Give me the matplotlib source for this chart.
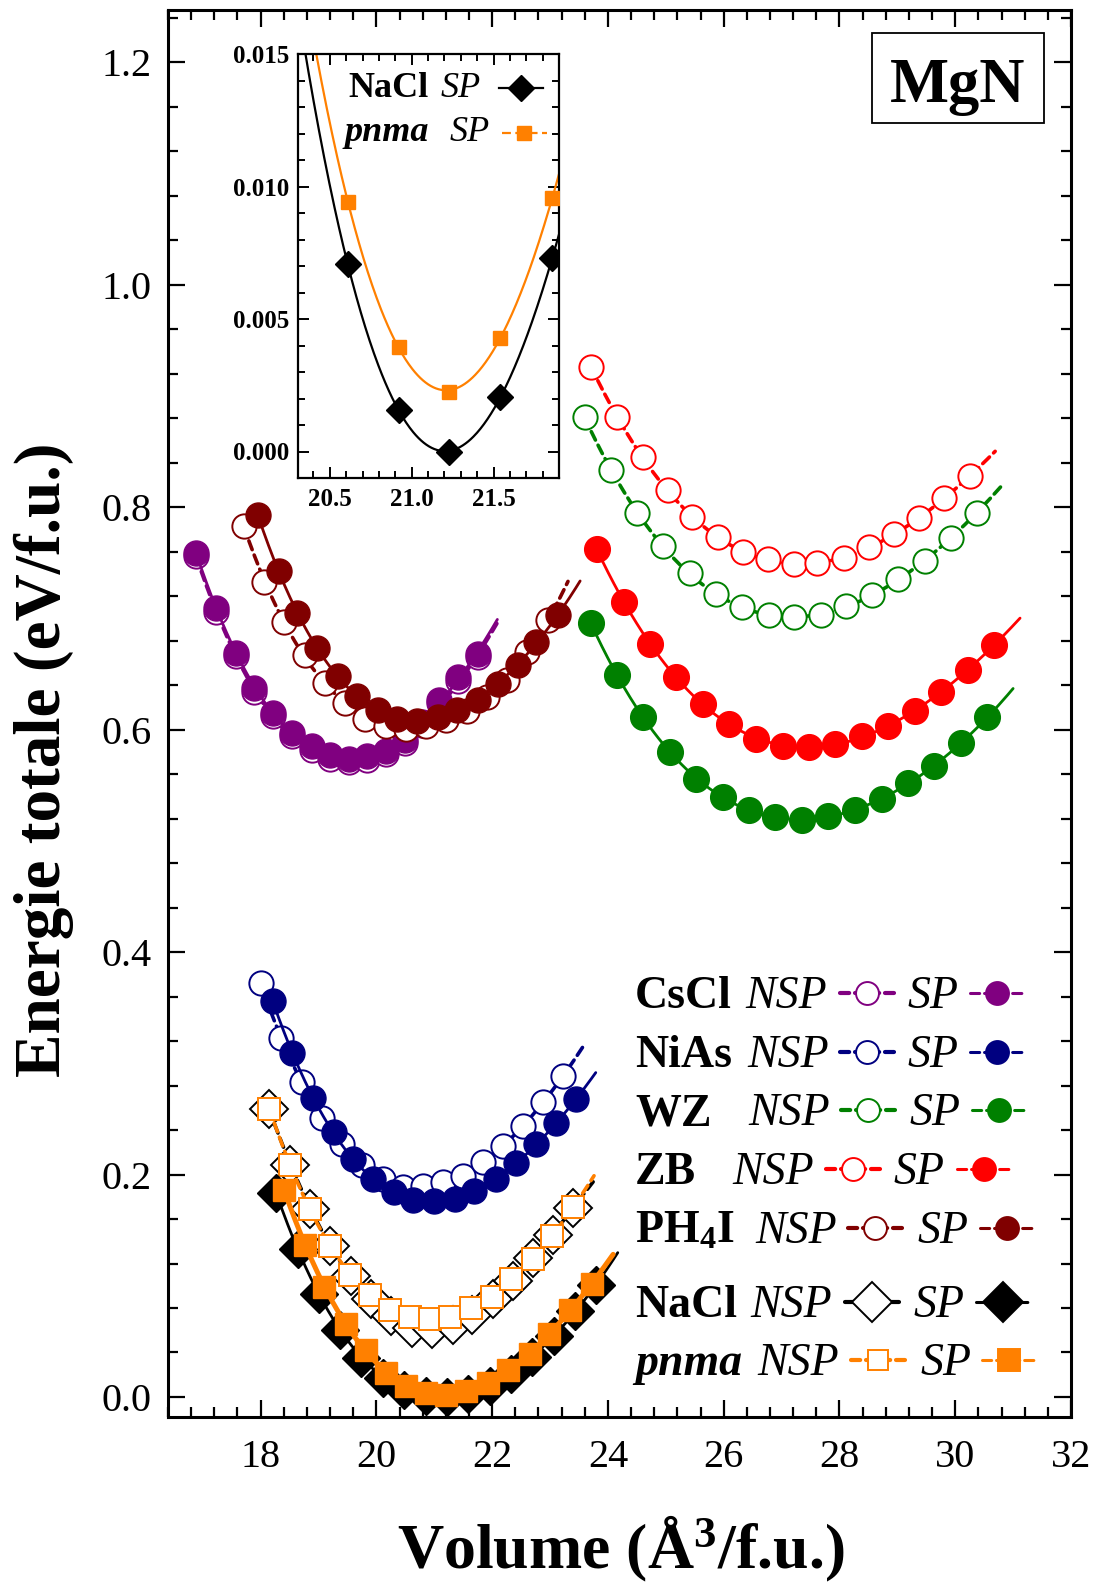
import numpy as np
import matplotlib
matplotlib.use('Agg')
import matplotlib.pyplot as plt
from matplotlib.lines import Line2D
from matplotlib.patches import Rectangle
from matplotlib.ticker import MultipleLocator, FormatStrFormatter

plt.rcParams['font.family'] = ['Liberation Serif', 'DejaVu Serif']
plt.rcParams['mathtext.fontset'] = 'custom'
plt.rcParams['mathtext.rm'] = 'Liberation Serif'
plt.rcParams['mathtext.bf'] = 'Liberation Serif:bold'
plt.rcParams['mathtext.it'] = 'Liberation Serif:italic'

# ---------------- data ----------------
cscl_v = [16.89, 17.23, 17.57, 17.89, 18.21, 18.55, 18.88, 19.20, 19.52, 19.84, 20.17, 20.49, 20.78, 21.08, 21.41, 21.75]
cscl_sp = [0.759, 0.709, 0.669, 0.637, 0.615, 0.597, 0.585, 0.577, 0.574, 0.576, 0.581, 0.591, 0.607, 0.627, 0.647, 0.668]
cscl_nsp = [0.756, 0.706, 0.666, 0.634, 0.612, 0.594, 0.582, 0.574, 0.571, 0.573, 0.578, 0.588, 0.604, 0.624, 0.644, 0.665]

ph4i_sp_v = [17.95, 18.31, 18.63, 18.98, 19.33, 19.67, 20.02, 20.36, 20.71, 21.06, 21.40, 21.75, 22.10, 22.44, 22.76, 23.14]
ph4i_sp = [0.793, 0.743, 0.705, 0.673, 0.648, 0.630, 0.618, 0.610, 0.608, 0.611, 0.618, 0.627, 0.641, 0.658, 0.679, 0.703]
ph4i_nsp_v = [17.71, 18.06, 18.41, 18.76, 19.11, 19.46, 19.81, 20.16, 20.51, 20.86, 21.21, 21.56, 21.91, 22.26, 22.61, 22.96]
ph4i_nsp = [0.783, 0.733, 0.697, 0.667, 0.642, 0.624, 0.610, 0.603, 0.601, 0.603, 0.609, 0.617, 0.629, 0.645, 0.670, 0.699]

zb_nsp_v = [23.71, 24.16, 24.60, 25.03, 25.46, 25.90, 26.33, 26.77, 27.21, 27.62, 28.07, 28.51, 28.94, 29.37, 29.81, 30.25]
zb_nsp = [0.926, 0.881, 0.845, 0.815, 0.791, 0.773, 0.760, 0.753, 0.749, 0.750, 0.754, 0.764, 0.776, 0.790, 0.808, 0.828]
zb_sp_v = [23.81, 24.27, 24.73, 25.18, 25.64, 26.10, 26.56, 27.02, 27.47, 27.93, 28.39, 28.84, 29.30, 29.76, 30.22, 30.67]
zb_sp = [0.762, 0.715, 0.677, 0.647, 0.623, 0.605, 0.592, 0.585, 0.584, 0.587, 0.594, 0.603, 0.617, 0.634, 0.654, 0.676]

wz_nsp_v = [23.60, 24.05, 24.50, 24.96, 25.41, 25.87, 26.31, 26.78, 27.22, 27.68, 28.11, 28.56, 29.01, 29.47, 29.92, 30.37]
wz_nsp = [0.881, 0.833, 0.795, 0.765, 0.741, 0.722, 0.710, 0.703, 0.701, 0.703, 0.711, 0.721, 0.735, 0.752, 0.772, 0.795]
wz_sp_v = [23.70, 24.16, 24.61, 25.07, 25.53, 25.98, 26.44, 26.89, 27.35, 27.81, 28.27, 28.73, 29.18, 29.64, 30.10, 30.55]
wz_sp = [0.696, 0.649, 0.611, 0.580, 0.556, 0.539, 0.528, 0.521, 0.519, 0.522, 0.528, 0.538, 0.552, 0.567, 0.588, 0.611]

nias_nsp_v = [18.00, 18.35, 18.71, 19.06, 19.41, 19.76, 20.11, 20.46, 20.80, 21.15, 21.50, 21.84, 22.19, 22.54, 22.88, 23.23]
nias_nsp = [0.372, 0.323, 0.283, 0.251, 0.227, 0.209, 0.196, 0.189, 0.190, 0.193, 0.199, 0.211, 0.226, 0.244, 0.265, 0.289]
nias_sp_v = [18.21, 18.55, 18.90, 19.26, 19.60, 19.95, 20.30, 20.64, 21.00, 21.35, 21.69, 22.06, 22.41, 22.75, 23.11, 23.45]
nias_sp = [0.356, 0.309, 0.269, 0.238, 0.214, 0.196, 0.184, 0.177, 0.176, 0.178, 0.185, 0.196, 0.210, 0.227, 0.246, 0.268]

nacl_nsp_v = [18.15, 18.51, 18.85, 19.20, 19.57, 19.91, 20.26, 20.61, 20.96, 21.32, 21.66, 22.01, 22.36, 22.70, 23.05, 23.40]
nacl_nsp = [0.259, 0.209, 0.169, 0.136, 0.109, 0.088, 0.073, 0.062, 0.061, 0.065, 0.074, 0.088, 0.104, 0.125, 0.146, 0.170]
pnma_nsp_v = [18.15, 18.51, 18.85, 19.20, 19.55, 19.89, 20.24, 20.58, 20.93, 21.28, 21.64, 21.99, 22.33, 22.70, 23.04, 23.40]
pnma_nsp = [0.259, 0.209, 0.169, 0.136, 0.110, 0.092, 0.078, 0.072, 0.070, 0.072, 0.080, 0.090, 0.106, 0.124, 0.145, 0.171]

nacl_sp_v = [18.27, 18.64, 19.01, 19.38, 19.74, 20.11, 20.48, 20.85, 21.22, 21.59, 21.96, 22.33, 22.69, 23.06, 23.43, 23.80]
nacl_sp = [0.183, 0.133, 0.093, 0.060, 0.035, 0.017, 0.006, 0.0012, 0.0, 0.0025, 0.0095, 0.021, 0.036, 0.055, 0.077, 0.101]
pnma_sp_v = [18.41, 18.76, 19.10, 19.48, 19.82, 20.17, 20.52, 20.86, 21.20, 21.55, 21.93, 22.27, 22.65, 22.99, 23.35, 23.72]
pnma_sp = [0.186, 0.137, 0.099, 0.066, 0.042, 0.022, 0.010, 0.0034, 0.0022, 0.005, 0.013, 0.024, 0.039, 0.057, 0.078, 0.102]

# inset data
ins_v = [20.61, 20.92, 21.23, 21.54, 21.86]
ins_nacl_sp = [0.00706, 0.00158, 0.0, 0.00204, 0.00732]
ins_pnma_sp = [0.00943, 0.00396, 0.00226, 0.00430, 0.00958]

legend_names = ['CsCl', 'NiAs', 'WZ', 'ZB', r'PH$_{\mathbf{4}}$I', 'NaCl', 'pnma']
x_ticks = [18, 20, 22, 24, 26, 28, 30, 32]
y_ticks = [0.0, 0.2, 0.4, 0.6, 0.8, 1.0, 1.2]

PURPLE = '#800080'
NAVY = '#000080'
GREEN = '#008000'
RED = '#FF0000'
DARKRED = '#800000'
BLACK = '#000000'
ORANGE = '#FF8000'

W, H = 1098, 1588
fig = plt.figure(figsize=(W / 100, H / 100), dpi=100)


def fx(px):
    return px / W


def fy(py):
    return 1 - py / H


ax = fig.add_axes([168 / W, 1 - 1417 / H, 903 / W, 1407 / H])
ax.set_xlim(16.4, 32.0)
ax.set_ylim(-0.018, 1.247)


def curve(v, e, deg=4, ext=True):
    v = np.asarray(v, float)
    e = np.asarray(e, float)
    c = np.polyfit(v, e, deg)
    x1 = v[-1] + (v[-1] - v[-2]) if ext else v[-1]
    xx = np.linspace(v[0], x1, 300)
    return xx, np.polyval(c, xx)


def series(v, e, color, marker, ms, filled, z, lw=None):
    xx, yy = curve(v, e)
    if filled:
        ax.plot(xx, yy, '-', color=color, lw=lw or 2.0, zorder=z, solid_capstyle='round')
        ax.plot(v, e, ls='none', marker=marker, ms=ms, mfc=color, mec=color, mew=1.0, zorder=z + 0.5)
    else:
        ax.plot(xx, yy, color=color, lw=lw or 2.6, ls=(0, (2.6, 1.6)), zorder=z, dash_capstyle='round')
        ax.plot(v, e, ls='none', marker=marker, ms=ms, mfc='white', mec=color, mew=1.4, zorder=z + 0.5)


series(cscl_v, cscl_nsp, PURPLE, 'o', 17.5, False, 2)
series(cscl_v, cscl_sp, PURPLE, 'o', 18, True, 3)
series(ph4i_nsp_v, ph4i_nsp, DARKRED, 'o', 17.5, False, 4)
series(ph4i_sp_v, ph4i_sp, DARKRED, 'o', 18, True, 5)
series(zb_nsp_v, zb_nsp, RED, 'o', 17.5, False, 2)
series(wz_nsp_v, wz_nsp, GREEN, 'o', 17.5, False, 2)
series(zb_sp_v, zb_sp, RED, 'o', 18.5, True, 3)
series(wz_sp_v, wz_sp, GREEN, 'o', 18.5, True, 3)
series(nias_nsp_v, nias_nsp, NAVY, 'o', 17.5, False, 2)
series(nias_sp_v, nias_sp, NAVY, 'o', 18, True, 3)
series(nacl_nsp_v, nacl_nsp, BLACK, 'D', 19.5, False, 4)
series(pnma_nsp_v, pnma_nsp, ORANGE, 's', 15.5, False, 5)
series(nacl_sp_v, nacl_sp, BLACK, 'D', 19.5, True, 6)
series(pnma_sp_v, pnma_sp, ORANGE, 's', 16.5, True, 7, lw=3.6)

ax.set_xticks(x_ticks)
ax.set_yticks(y_ticks)
ax.xaxis.set_minor_locator(MultipleLocator(0.4))
ax.yaxis.set_minor_locator(MultipleLocator(0.04))
ax.yaxis.set_major_formatter(FormatStrFormatter('%.1f'))
ax.xaxis.set_major_formatter(FormatStrFormatter('%d'))
ax.tick_params(which='both', direction='in', top=True, right=True, width=1.6)
ax.tick_params(which='major', length=12, labelsize=29)
ax.tick_params(which='minor', length=7)
ax.tick_params(axis='x', which='major', pad=16)
ax.tick_params(axis='y', which='major', pad=12)
for s in ax.spines.values():
    s.set_linewidth(2.2)

# axis labels
fig.text(fx(60), fy(760), 'Energie totale (eV/f.u.)', rotation=90, rotation_mode='anchor',
         ha='center', va='baseline', fontsize=47, fontweight='bold')
fig.text(fx(621), fy(1568), r'Volume (Å$^{\mathbf{3}}$/f.u.)', ha='center', va='baseline',
         fontsize=46, fontweight='bold')

# MgN label box
rect = Rectangle((fx(871.7), fy(123.3)), 172.3 / W, 90 / H, transform=fig.transFigure,
                 fill=False, lw=1.3, ec='black')
fig.add_artist(rect)
fig.text(fx(957.8), fy(102), 'MgN', ha='center', va='baseline', fontsize=45, fontweight='bold')

# ---------------- main legend ----------------
leg_base = [1008, 1067, 1125, 1184, 1243, 1317, 1375]
leg_nsp_tx = [745, 747, 748, 732, 755, 750, 757]
leg_nsp_hx = [867, 867, 868, 853, 875, 872, 878]
leg_sp_tx = [907, 907, 909, 893, 917, 913, 920]
leg_sp_hx = [997, 997, 999, 984, 1007, 1003, 1009]
leg_style = [(PURPLE, 'o', 16.5, 16.5), (NAVY, 'o', 16.5, 16.5), (GREEN, 'o', 16.5, 16.5),
             (RED, 'o', 16.5, 16.5), (DARKRED, 'o', 16.5, 16.5), (BLACK, 'D', 20, 20),
             (ORANGE, 's', 14.5, 16.5)]


def handle(cx, cy, color, marker, ms, filled, half=27, lw=2.6, ls='-'):
    ln = Line2D([fx(cx - half), fx(cx), fx(cx + half)], [fy(cy)] * 3, transform=fig.transFigure,
                color=color, lw=lw, ls=ls, marker=marker, ms=ms, mfc=color if filled else 'white',
                mec=color, mew=1.4, markevery=[1], solid_capstyle='round', dash_capstyle='round')
    fig.add_artist(ln)


for i, name in enumerate(legend_names):
    b = leg_base[i]
    style = 'italic' if name == 'pnma' else 'normal'
    fig.text(fx(635), fy(b), name, fontsize=33, fontweight='bold', style=style, va='baseline')
    fig.text(fx(leg_nsp_tx[i]), fy(b), 'NSP', fontsize=33, style='italic', va='baseline')
    fig.text(fx(leg_sp_tx[i]), fy(b), 'SP', fontsize=33, style='italic', va='baseline')
    col, mk, ms_o, ms_f = leg_style[i]
    handle(leg_nsp_hx[i], b - 15, col, mk, ms_o, False, lw=3.0, ls=(0, (2.2, 1.4)))
    handle(leg_sp_hx[i], b - 15, col, mk, ms_f, True, lw=2.2, ls=(0, (3.0, 1.6)))

# ---------------- inset ----------------
ins = fig.add_axes([298 / W, 1 - 478 / H, 261 / W, 424 / H])
ins.set_xlim(20.306, 21.90)
ins.set_ylim(-0.001, 0.015)
xi = np.linspace(20.306, 21.90, 300)
ci = np.polyfit(ins_v, ins_nacl_sp, 3)
ins.plot(xi, np.polyval(ci, xi), color=BLACK, lw=1.6, zorder=2)
ci2 = np.polyfit(ins_v, ins_pnma_sp, 3)
ins.plot(xi, np.polyval(ci2, xi), color=ORANGE, lw=1.6, zorder=2)
ins.plot(ins_v, ins_nacl_sp, ls='none', marker='D', ms=13.5, color=BLACK, zorder=3)
ins.plot(ins_v, ins_pnma_sp, ls='none', marker='s', ms=10, color=ORANGE, zorder=3)
ins.xaxis.set_major_locator(MultipleLocator(0.5))
ins.xaxis.set_minor_locator(MultipleLocator(0.1))
ins.yaxis.set_major_locator(MultipleLocator(0.005))
ins.yaxis.set_minor_locator(MultipleLocator(0.001))
ins.xaxis.set_major_formatter(FormatStrFormatter('%.1f'))
ins.yaxis.set_major_formatter(FormatStrFormatter('%.3f'))
ins.tick_params(which='both', direction='in', top=True, right=True, width=1.4)
ins.tick_params(which='major', length=8)
ins.tick_params(which='minor', length=5)
ins.tick_params(axis='x', which='major', pad=7)
ins.tick_params(axis='y', which='major', pad=6)
for lab in ins.get_xticklabels() + ins.get_yticklabels():
    lab.set_fontsize(18)
    lab.set_fontweight('bold')
for s in ins.spines.values():
    s.set_linewidth(1.6)

# inset legend
fig.text(fx(348), fy(97), 'NaCl', fontsize=26, fontweight='bold', va='baseline')
fig.text(fx(441), fy(97), 'SP', fontsize=26, style='italic', va='baseline')
fig.text(fx(345), fy(141), 'pnma', fontsize=26, fontweight='bold', style='italic', va='baseline')
fig.text(fx(450), fy(141), 'SP', fontsize=26, style='italic', va='baseline')
h1 = Line2D([fx(499), fx(521), fx(543)], [fy(88)] * 3, transform=fig.transFigure, color=BLACK,
            lw=1.6, marker='D', ms=13.5, markevery=[1])
fig.add_artist(h1)
h2 = Line2D([fx(502), fx(524), fx(547)], [fy(133)] * 3, transform=fig.transFigure, color=ORANGE,
            lw=1.6, ls=(0, (4, 2)), marker='s', ms=10, markevery=[1])
fig.add_artist(h2)

fig.savefig('out.png', dpi=100)
